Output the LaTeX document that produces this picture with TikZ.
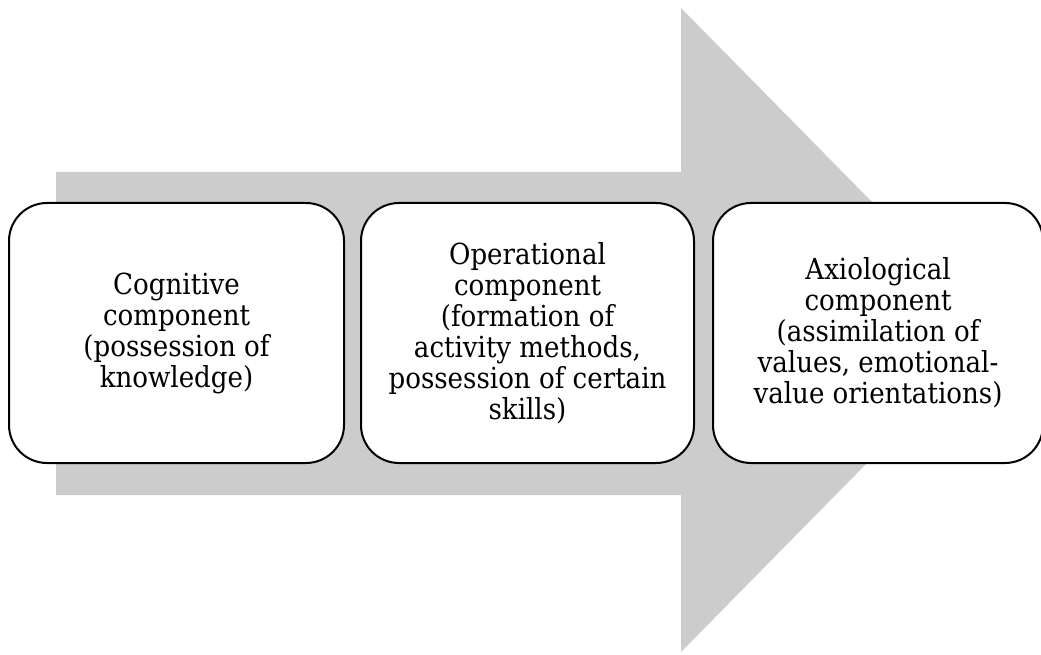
\documentclass[tikz,border=0pt]{standalone}
\usepackage{fontspec}
\setmainfont{DejaVu Serif Condensed}
\usetikzlibrary{positioning}
\definecolor{arrowgray}{RGB}{204, 204, 204}
\begin{document}
\begin{tikzpicture}[x=1pt, y=-1pt,
  comp/.style={draw, line width=2pt, fill=white, rounded corners=38pt, minimum height=260pt, align=center, font=\fontsize{29}{31}\selectfont}]
\useasboundingbox (0,0) rectangle (1041,655);
\clip (0,0) rectangle (1041,655);
% big arrow behind the boxes
\fill[arrowgray] (56,172) -- (681,172) -- (681,8) -- (998,330) -- (681,652) -- (681,495) -- (56,495) -- cycle;
\node[comp, minimum width=335pt] (cogn) at (176.5,333) {Cognitive\\component\\(possession of\\knowledge)};
\node[comp, minimum width=333pt, right=15pt of cogn] (oper) {Operational\\component\\(formation of\\activity methods,\\possession of certain\\skills)};
\node[comp, minimum width=330pt, right=17pt of oper] (axio) {Axiological\\component\\(assimilation of\\values, emotional-\\value orientations)};
\end{tikzpicture}
\end{document}
